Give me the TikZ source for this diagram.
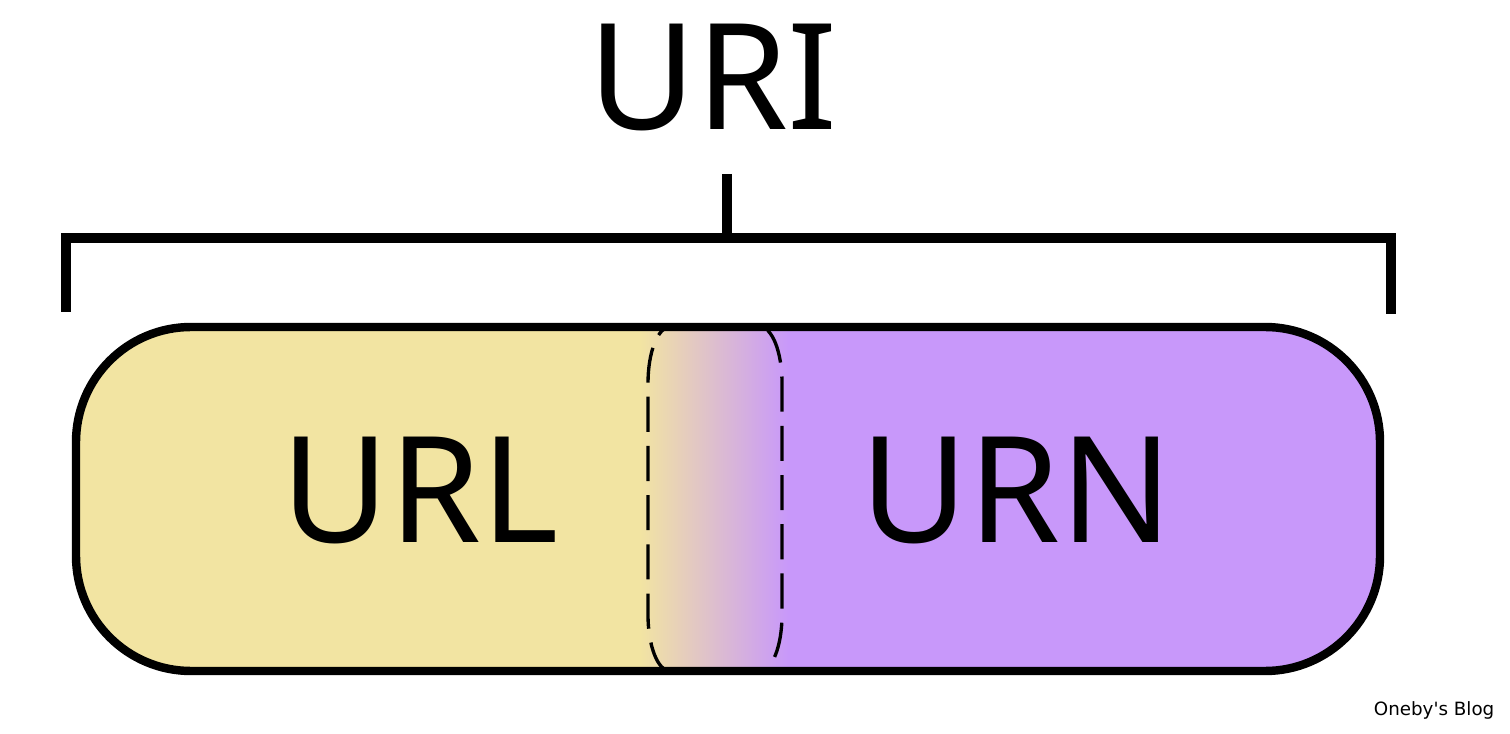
\documentclass[tikz,border=0pt]{standalone}
\usepackage{fontspec}
\setmainfont{Noto Sans}
\newfontfamily\markfont{DejaVu Sans}
\usetikzlibrary{positioning}
\definecolor{urlyellow}{HTML}{F2E4A2}
\definecolor{urnpurple}{HTML}{C898FA}

\begin{document}
\begin{tikzpicture}[x=0.01cm, y=-0.01cm,
    every node/.style={inner sep=0pt, font=\fontsize{42}{42}\selectfont},
    bracket/.style={line width=2.6pt, line cap=butt},
    pill/.style={line width=2.4pt, rounded corners=1.15cm},
    overlap/.style={line width=0.95pt, dash pattern=on 10pt off 4pt}]
  \useasboundingbox (0,0) rectangle (1510,734);
  % shaded body
  \begin{scope}
    \clip[rounded corners=1.15cm] (76,327) rectangle (1380,671);
    \fill[urlyellow] (76,327) rectangle (640,671);
    \shade[left color=urlyellow, right color=urnpurple] (640,327) rectangle (788,671);
    \fill[urnpurple] (788,327) rectangle (1380,671);
  \end{scope}
  % overlap of URL and URN
  \draw[overlap] (670,327) -- (760,327)
    arc[start angle=90, end angle=0, x radius=0.22cm, y radius=0.56cm] -- (782,615)
    arc[start angle=0, end angle=-90, x radius=0.22cm, y radius=0.56cm] -- (670,671)
    arc[start angle=-90, end angle=-180, x radius=0.22cm, y radius=0.56cm] -- (648,383)
    arc[start angle=180, end angle=90, x radius=0.22cm, y radius=0.56cm] -- cycle;
  \draw[pill] (76,327) rectangle (1380,671);
  % bracket
  \draw[bracket] (66,312) -- (66,238) -- (1391,238) -- (1391,314);
  \draw[bracket] (727,174) -- (727,238);
  \node (uri) at (713,78) {URI};
  \node (url) at (420,491) {URL};
  \node (urn) at (1017,491) {URN};
  \node[font=\markfont\fontsize{5.2}{5.2}\selectfont, anchor=east] (mark) at (1495,710) {Oneby's Blog};
\end{tikzpicture}
\end{document}
